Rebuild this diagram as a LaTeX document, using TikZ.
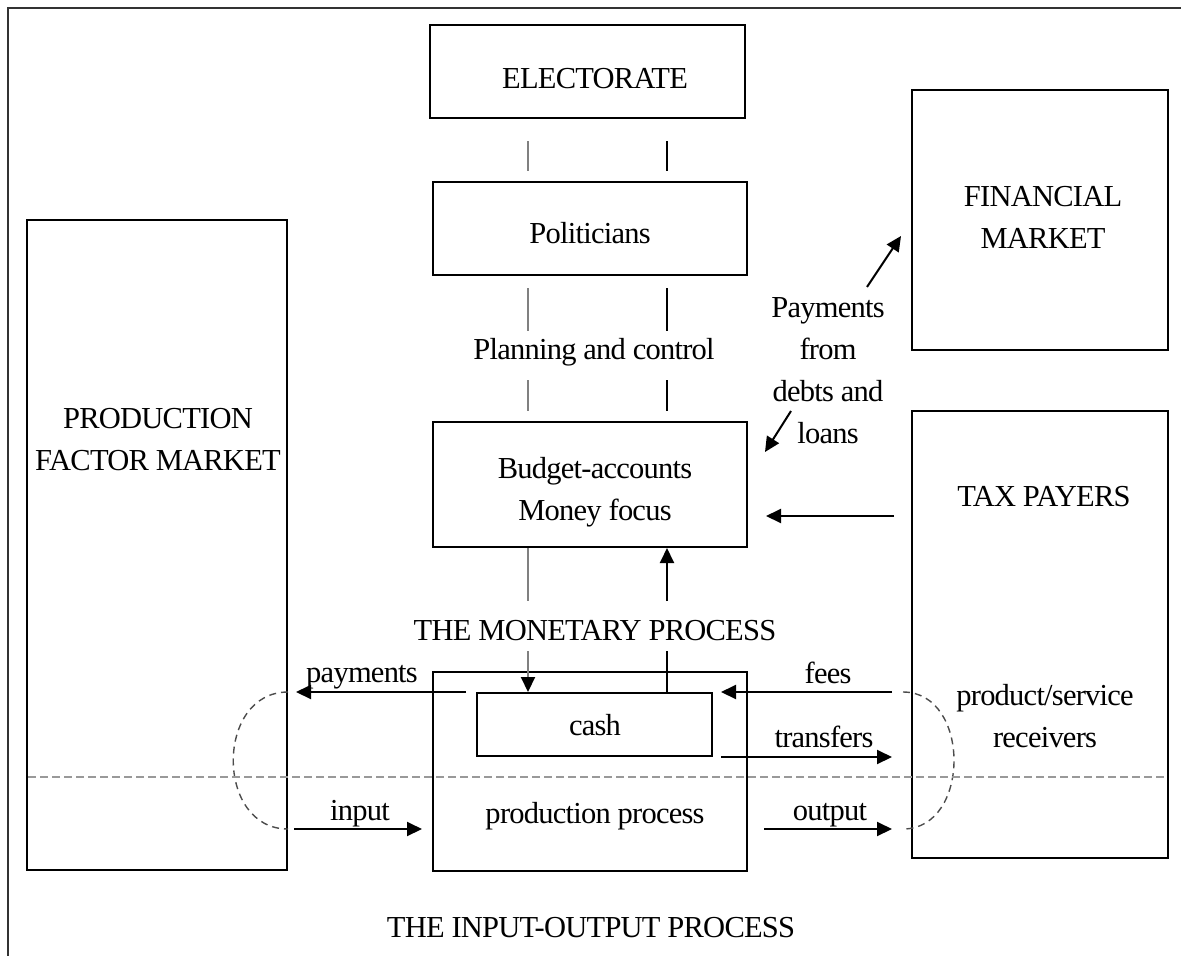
\documentclass[tikz,border=0pt]{standalone}
\usepackage{fontspec}
\setmainfont{Liberation Serif}[LetterSpace=-2.5]
\usetikzlibrary{arrows.meta,calc}
\begin{document}
\begin{tikzpicture}[x=1pt,y=-1pt,
  box/.style={draw,line width=2pt,inner sep=0pt,align=center},
  txt/.style={inner sep=0pt,align=center},
  conn/.style={line width=2pt},
  gconn/.style={line width=2pt,draw=black!50},
  tip/.style={-{Triangle[length=15pt,width=14pt,color=black]}},
  arr/.style={line width=2pt,tip},
  loopline/.style={line width=1.4pt,draw=black!70,dash pattern=on 7pt off 5pt},
  divider/.style={line width=2.2pt,draw=black!40,dash pattern=on 8pt off 4pt},
  font=\fontsize{30.5}{42}\selectfont]
\useasboundingbox (0,0) rectangle (1181,956);
\draw[line width=2.2pt,black!80] (1181,8) -- (8,8) -- (8,956);

% boxes
\node[box,minimum width=315pt,minimum height=93pt] (elect) at (587.5,71.5) {};
\node[box,minimum width=314pt,minimum height=93pt] (polit) at (590,228.5) {};
\node[box,minimum width=314pt,minimum height=125pt] (budget) at (590,484.5) {};
\node[box,minimum width=314pt,minimum height=199pt] (prod) at (590,771.5) {};
\node[box,minimum width=235pt,minimum height=63pt] (cash) at (594.5,724.5) {};
\node[box,minimum width=260pt,minimum height=650pt] (pfm) at (157,545) {};
\node[box,minimum width=256pt,minimum height=260pt] (fin) at (1040,220) {};
\node[box,minimum width=256pt,minimum height=447pt] (tax) at (1040,634.5) {};

% texts
\node[txt] (electtext) at (595,78.5) {ELECTORATE};
\node[txt] (polittext) at (590,233.5) {Politicians};
\node[txt] (budgettext) at (595,492) {Budget-accounts\\Money focus};
\node[txt] (cashtext) at (595,725) {cash};
\node[txt] (fintext) at (1043,217) {FINANCIAL\\MARKET};
\node[txt] (pfmtext) at (158,440) {PRODUCTION\\FACTOR MARKET};
\node[txt] (taxtext) at (1044,497) {TAX PAYERS};
\node[txt] (recv) at (1045,716) {product/service\\receivers};
\node[txt] (prodtext) at (595,816) {production process};
\node[txt] (plan) at (594,352) {Planning and control};
\node[txt] (monet) at (595,631) {THE MONETARY PROCESS};
\node[txt] (io) at (591,928) {THE INPUT-OUTPUT PROCESS};
\node[txt] (pay) at (828,371) {Payments\\from\\debts and\\loans};
\node[txt] (lpay) at (362,677) {payments};
\node[txt] (linput) at (360,814) {input};
\node[txt] (lfees) at (828,673) {fees};
\node[txt] (ltrans) at (824,737) {transfers};
\node[txt] (lout) at (830,815) {output};

\coordinate (L) at (528,0);
\coordinate (R) at (667,0);

% electorate - politicians
\draw[gconn] ($(elect.south -| L)+(0,22)$) -- ($(polit.north -| L)+(0,-10)$);
\draw[conn] ($(elect.south -| R)+(0,22)$) -- ($(polit.north -| R)+(0,-10)$);
% politicians - budget
\draw[gconn] ($(polit.south -| L)+(0,12)$) -- ($(polit.south -| L)+(0,55)$);
\draw[conn] ($(polit.south -| R)+(0,12)$) -- ($(polit.south -| R)+(0,55)$);
\draw[gconn] ($(budget.north -| L)+(0,-41)$) -- ($(budget.north -| L)+(0,-10)$);
\draw[conn] ($(budget.north -| R)+(0,-41)$) -- ($(budget.north -| R)+(0,-10)$);
% budget - cash
\draw[gconn] (budget.south -| L) -- ($(budget.south -| L)+(0,53)$);
\draw[gconn,tip] ($(cash.north -| L)+(0,-41)$) -- (cash.north -| L);
\draw[conn] (cash.north -| R) -- ($(cash.north -| R)+(0,-41)$);
\draw[arr] ($(budget.south -| R)+(0,53)$) -- (budget.south -| R);

% horizontal flows
\draw[arr] ($(cash.north west)+(-10,0)$) -- ($(pfm.east |- cash.north)+(8,0)$);
\draw[arr] ($(tax.west |- cash.north)+(-19,0)$) -- ($(cash.north east)+(8,0)$);
\draw[arr] ($(cash.south east)+(8,0)$) -- ($(tax.west |- cash.south)+(-19,0)$);
\coordinate (io-y) at (0,829);
\draw[arr] ($(pfm.east |- io-y)+(6,0)$) -- ($(prod.west |- io-y)+(-10,0)$);
\draw[arr] ($(prod.east |- io-y)+(16,0)$) -- ($(tax.west |- io-y)+(-19,0)$);
\coordinate (tb-y) at (0,516);
\draw[arr] ($(tax.west |- tb-y)+(-17,0)$) -- ($(budget.east |- tb-y)+(18,0)$);

% payments from debts and loans
\draw[arr] ($(fin.west)+(-44,67)$) -- ($(fin.west)+(-10,16)$);
\draw[arr] ($(budget.north east)+(43,-10)$) -- ($(budget.north east)+(17,31)$);

% dashed loops
\draw[loopline] ($(pfm.east |- cash.north)$) .. controls +(-73,0) and +(-73,0) .. ($(pfm.east |- io-y)$);
\draw[loopline] ($(tax.west |- cash.north)+(-8,0)$) .. controls +(68,0) and +(68,0) .. ($(tax.west |- io-y)+(-8,0)$);

% divider
\coordinate (dv) at (0,777);
\draw[divider] ($(pfm.west |- dv)+(2,0)$) -- ($(tax.east |- dv)+(-2,0)$);
\end{tikzpicture}
\end{document}
